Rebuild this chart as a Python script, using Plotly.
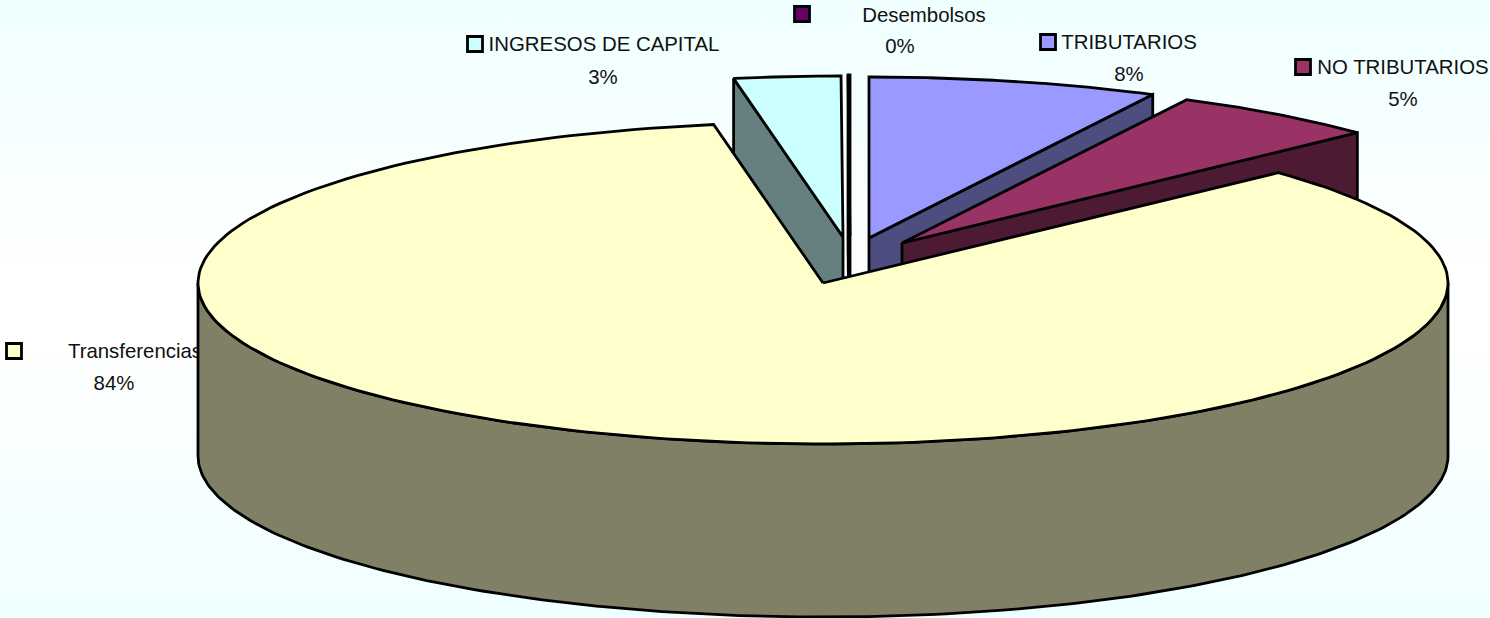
import numpy as np
import plotly.graph_objects as go

# chart data, clockwise from 12 o'clock
categories = ['TRIBUTARIOS', 'NO TRIBUTARIOS', 'Transferencias', 'INGRESOS DE CAPITAL', 'Desembolsos']
values = [7.5, 5.49, 84.21, 2.75, 0.05]

top_colors = ['#9999FF', '#993366', '#FFFFCC', '#CCFFFF', '#660066']
side_colors = ['#4D4D80', '#4D1A33', '#808066', '#668080', '#330033']
explode = [(46, -45), (79, -40), (0, 0), (20, -46), (27, -47)]

# label placement: key marker, name centre, percent centre
key_pos = [(1048, 42), (1303, 67), (14, 351), (475, 44), (802, 14)]
name_pos = [(1129, 44), (1403, 69), (135, 353), (604, 46), (924, 17)]
pct_pos = [(1129, 76), (1403, 101), (114, 385), (603, 79), (900, 48)]

CX, CY = 823, 283
RX, RY = 625, 161
DEPTH = 173
LINE = dict(color='black', width=2.8)


def rim(t0, t1, ox=0, oy=0, n=200):
    t = np.radians(np.linspace(t0, t1, n))
    return CX + ox + RX * np.sin(t), CY + oy - RY * np.cos(t)


def poly(x, y, color):
    return go.Scatter(x=list(x), y=list(y), mode='lines', fill='toself', fillcolor=color,
                      line=LINE, hoverinfo='skip', showlegend=False)


def slice_traces(t0, t1, ox, oy, top, side):
    xs, ys = rim(t0, t1, ox, oy)
    tip_x, tip_y = CX + ox, CY + oy
    # radial wall on the side that faces the viewer
    if (t0 + t1) / 2 < 180:
        wall_x, wall_y = xs[-1], ys[-1]
    else:
        wall_x, wall_y = xs[0], ys[0]
    traces = [poly([tip_x, wall_x, wall_x, tip_x, tip_x],
                   [tip_y, wall_y, wall_y + DEPTH, tip_y + DEPTH, tip_y], side)]
    traces.append(poly(np.r_[tip_x, xs, tip_x], np.r_[tip_y, ys, tip_y], top))
    return traces


fig = go.Figure()

# background gradient
fig.add_trace(go.Scatter(x=[0, 1490, 1490, 0, 0], y=[0, 0, 618, 618, 0], mode='lines', fill='toself',
                         fillgradient=dict(type='vertical',
                                           colorscale=[[0, '#EFFFFF'], [0.45, '#FFFFFF'], [0.55, '#FFFFFF'],
                                                       [1, '#EFFFFF']]),
                         line=dict(width=0), hoverinfo='skip', showlegend=False))

# labels go under the pie, the big slice clips the last letter of its name
pcts = [f'{round(v)}%' for v in values]
fig.add_trace(go.Scatter(x=[p[0] for p in name_pos] + [p[0] for p in pct_pos],
                         y=[p[1] for p in name_pos] + [p[1] for p in pct_pos],
                         mode='text', text=categories + pcts, textposition='middle center',
                         textfont=dict(family='Liberation Sans', size=20.4, color='#111111'),
                         hoverinfo='skip', showlegend=False))
fig.add_trace(go.Scatter(x=[p[0] for p in key_pos], y=[p[1] for p in key_pos], mode='markers',
                         marker=dict(symbol='square', size=15, color=top_colors, line=LINE),
                         hoverinfo='skip', showlegend=False))

# angles come from the values
edges = np.r_[0, np.cumsum(values)] / sum(values) * 360

# painter's order: back slices first, the big one last
for i in [3, 4, 0, 1]:
    for tr in slice_traces(edges[i], edges[i + 1], explode[i][0], explode[i][1], top_colors[i], side_colors[i]):
        fig.add_trace(tr)

# big slice: outer cylinder then its top
i = 2
sx, sy = rim(90, 270)
fig.add_trace(poly(np.r_[sx, sx[::-1], sx[0]], np.r_[sy, sy[::-1] + DEPTH, sy[0]], side_colors[i]))
tx, ty = rim(edges[i], edges[i + 1])
fig.add_trace(poly(np.r_[CX, tx, CX], np.r_[CY, ty, CY], top_colors[i]))

fig.update_layout(width=1490, height=618, margin=dict(l=0, r=0, t=0, b=0),
                  paper_bgcolor='#F4FFFF', plot_bgcolor='#F4FFFF', showlegend=False,
                  xaxis=dict(range=[0, 1490], visible=False, fixedrange=True),
                  yaxis=dict(range=[618, 0], visible=False, fixedrange=True))

fig.write_html("out.html", config=dict(displayModeBar=False),
               post_script="document.body.style.margin='0';document.body.style.overflow='hidden';")
